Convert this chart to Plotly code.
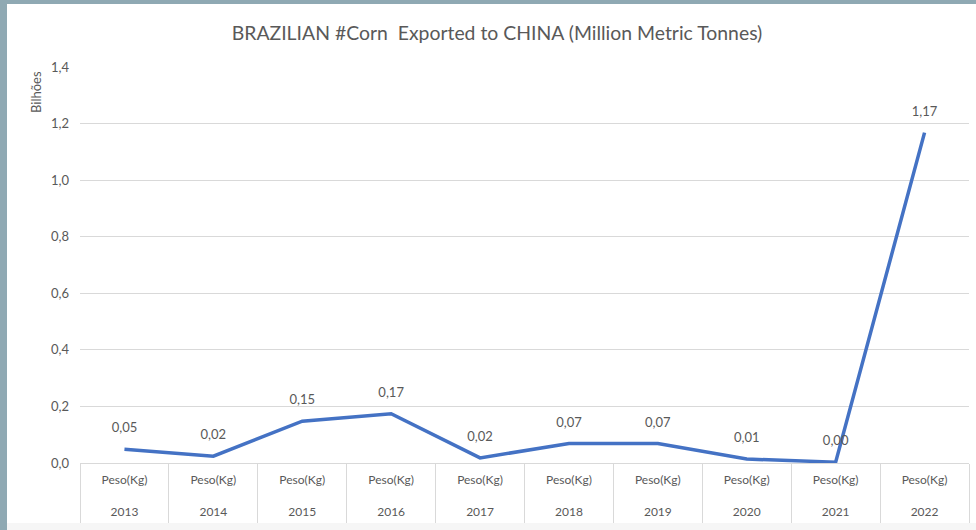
import plotly.graph_objects as go

years = ["2013", "2014", "2015", "2016", "2017", "2018", "2019", "2020", "2021", "2022"]
measure = ["Peso(Kg)"] * len(years)
# exported weight, in billions of kg
weight_bn = [0.049, 0.024, 0.148, 0.174, 0.018, 0.069, 0.069, 0.014, 0.003, 1.168]
y_ticks = [0.0, 0.2, 0.4, 0.6, 0.8, 1.0, 1.2, 1.4]

# two-row category labels, like Excel's multi-level axis
x_labels = [f"{m}<br><br>{y}" for m, y in zip(measure, years)]

W, H = 976, 530
L, R, T, B = 80, 7, 67, 67
pw, ph = W - L - R, H - T - B

gray = "#595959"
grid = "#d9d9d9"
frame = "#8fa9b3"

fig = go.Figure()
fig.add_trace(go.Scatter(
  x=x_labels,
  y=weight_bn,
  mode="lines+markers+text",
  line=dict(color="#4472c4", width=3.5),
  marker=dict(size=20, color="rgba(0,0,0,0)"),
  texttemplate="%{y:.2f}",
  textposition="top center",
  textfont=dict(size=13, color=gray),
  cliponaxis=False,
  hoverinfo="skip",
))

fig.update_layout(
  width=W, height=H,
  margin=dict(l=L, r=R, t=T, b=B),
  paper_bgcolor=frame,
  plot_bgcolor="white",
  separators=",.",
  showlegend=False,
  font=dict(family="Lato, Open Sans, sans-serif", color=gray, size=13),
  title=dict(
    text="BRAZILIAN #Corn  Exported to CHINA (Million Metric Tonnes)",
    x=497 / W, xanchor="center",
    y=1 - 33 / H, yanchor="middle",
    font=dict(size=19.4, color=gray),
  ),
)

fig.update_yaxes(
  range=[0, 1.4],
  tickvals=y_ticks,
  tickformat=".1f",
  showgrid=True, gridcolor=grid, gridwidth=1,
  zeroline=False, showline=False,
  ticks="", ticklen=0,
  ticklabelstandoff=10,
  tickfont=dict(size=13, color=gray),
  automargin=False,
)

fig.update_xaxes(
  type="category",
  range=[-0.5, len(years) - 0.5],
  showline=True, linecolor=grid, linewidth=1,
  showgrid=False,
  ticks="outside", tickson="boundaries", ticklen=59, tickcolor=grid, tickwidth=1,
  ticklabelstandoff=6,
  tickfont=dict(size=12, color=gray),
  automargin=False,
)

# axis title at the top, Excel style
fig.add_annotation(
  text="Bilhões", textangle=-90,
  xref="paper", yref="paper",
  x=(36 - L) / pw, y=(H - B - 92) / ph,
  xanchor="center", yanchor="middle",
  showarrow=False, font=dict(size=13, color=gray),
)

# white chart card inside the screenshot frame (frame shows on the left and top)
fig.add_shape(type="rect", xref="paper", yref="paper",
  x0=(7 - L) / pw, x1=(W - L) / pw, y0=-B / ph, y1=(H - B - 4) / ph,
  line_width=0, fillcolor="white", layer="below")
fig.add_shape(type="rect", xref="paper", yref="paper",
  x0=(7 - L) / pw, x1=(W - L) / pw, y0=-B / ph, y1=(H - B - 523) / ph,
  line_width=0, fillcolor="#f6f6f6", layer="below")

# the page body has an 8px default margin; drop it so the figure fills the window
fig.write_html(
  "out.html",
  config={"displayModeBar": False},
  post_script="document.body.style.margin = '0';",
)
